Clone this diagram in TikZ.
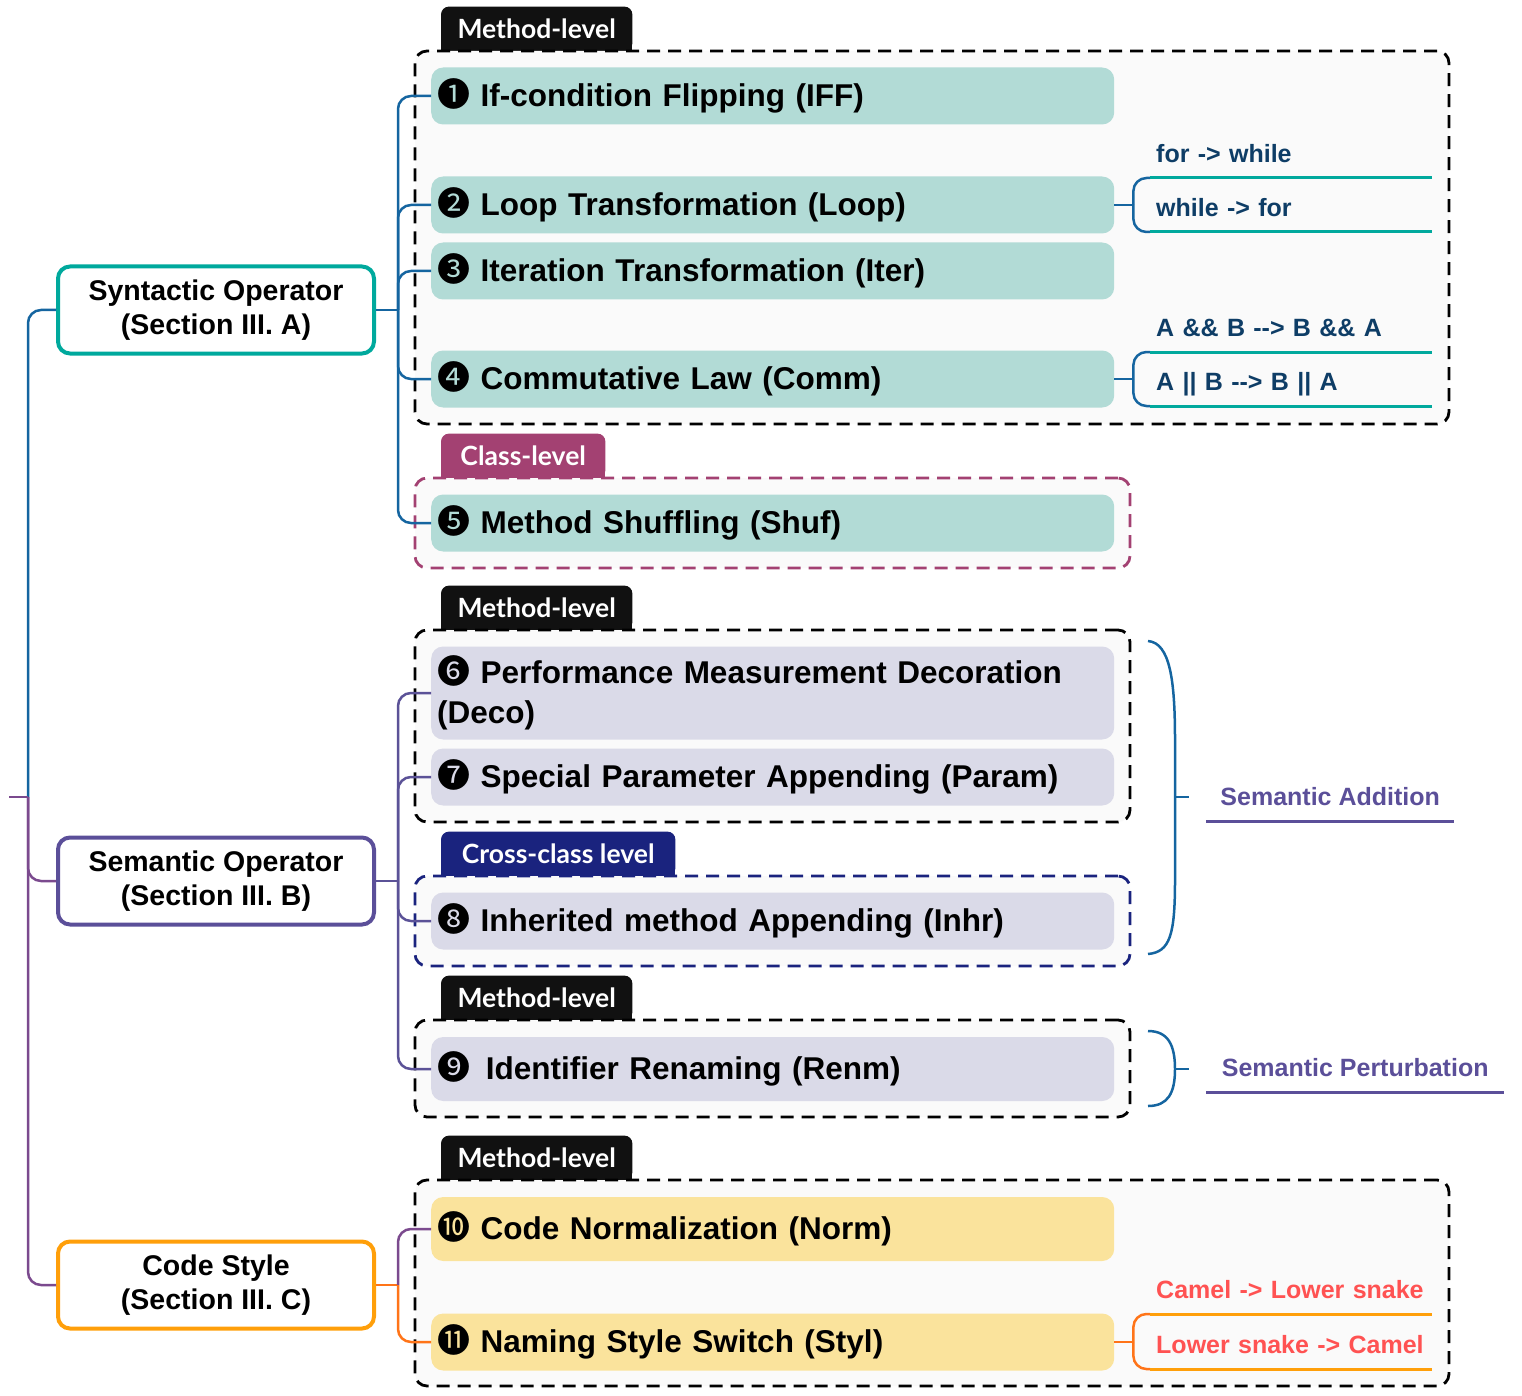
\documentclass[tikz,border=0pt]{standalone}
\usepackage{fontspec}
\setmainfont{Liberation Sans}
\newfontfamily\tagfont{Lato}
\newfontfamily\numfont{Noto Sans CJK JP}
\usetikzlibrary{positioning,fit,backgrounds}

\definecolor{synline}{HTML}{1565A0}
\definecolor{semline}{HTML}{5B5297}
\definecolor{rootpurple}{HTML}{7B4A8E}
\definecolor{tealb}{HTML}{00A99D}
\definecolor{orangeb}{HTML}{FF9F0A}
\definecolor{orangel}{HTML}{FF7418}
\definecolor{synfill}{HTML}{B2DBD6}
\definecolor{semfill}{HTML}{DADAE8}
\definecolor{stylefill}{HTML}{FAE39C}
\definecolor{grpfill}{HTML}{FAFAFA}
\definecolor{classcol}{HTML}{A34172}
\definecolor{crosscol}{HTML}{1A237E}
\definecolor{tagblack}{HTML}{111111}
\definecolor{subtext}{HTML}{0E3D66}
\definecolor{camelred}{HTML}{FF5252}
\definecolor{semtext}{HTML}{5B4F99}

\newcommand\itemfont{\fontsize{31.5}{40}\selectfont\bfseries}
\newcommand\catfont{\fontsize{28.5}{34}\selectfont\bfseries}
\newcommand\subfont{\fontsize{25}{30}\selectfont\bfseries}
\newcommand\opnum[1]{{\numfont\mdseries\fontsize{33}{40}\selectfont #1}}

\tikzset{
  catbox/.style={draw, line width=4pt, rounded corners=12pt, fill=white,
    minimum width=316pt, minimum height=87pt, align=center, font=\catfont},
  opbox/.style={rounded corners=12pt, text width=671pt, inner xsep=6pt,
    inner ysep=0pt, align=left, anchor=west, minimum height=57pt, font=\itemfont},
  synop/.style={opbox, fill=synfill},
  semop/.style={opbox, fill=semfill},
  styleop/.style={opbox, fill=stylefill},
  grp/.style={draw, dash pattern=on 13pt off 8pt, line width=2.8pt,
    rounded corners=12pt, fill=grpfill, inner sep=0pt},
  tag/.style={text=white, minimum height=44pt, inner sep=0pt,
    anchor=south west, font=\tagfont\bfseries\fontsize{26.5}{26}\selectfont},
  conn/.style={line width=2.5pt, rounded corners=13pt},
  sublabel/.style={anchor=south west, text width=270pt, inner xsep=6pt,
    inner ysep=10pt, text height=18pt, text depth=5pt, align=left, font=\subfont},
  semlabel/.style={anchor=south west, inner xsep=13pt, inner ysep=10pt,
    text height=18pt, text depth=5pt, text=semtext, font=\subfont},
  underline/.style={line width=3pt}
}

\begin{document}
\begin{tikzpicture}[x=1pt, y=-1pt]
\useasboundingbox (0,0) rectangle (1522,1396);

%tags:
\node[tag, minimum width=191pt] (tagA) at (441,51) {Method-level};
\node[tag, minimum width=164pt] (tagB) at (441,478) {Class-level};
\node[tag, minimum width=191pt] (tagC) at (441,630) {Method-level};
\node[tag, minimum width=234pt] (tagD) at (441,876) {Cross-class level};
\node[tag, minimum width=191pt] (tagE) at (441,1020) {Method-level};
\node[tag, minimum width=191pt] (tagF) at (441,1180) {Method-level};
\begin{scope}[on background layer]
  \foreach \t/\c in {tagA/tagblack, tagB/classcol, tagC/tagblack, tagD/crosscol, tagE/tagblack, tagF/tagblack} {
    \fill[\c, rounded corners=8pt] (\t.south west) rectangle (\t.north east);
    \fill[\c] (\t.south west) rectangle (\t.east);
  }
\end{scope}

%level groups:
\node[grp, fit={(415,51) (1449,424)}] (grpA) {};
\node[grp, draw=classcol, fit={(415,478) (1130,568)}] (grpB) {};
\node[grp, fit={(415,630) (1130,822)}] (grpC) {};
\node[grp, draw=crosscol, fit={(415,876) (1130,966)}] (grpD) {};
\node[grp, fit={(415,1020) (1130,1117)}] (grpE) {};
\node[grp, fit={(415,1180) (1449,1386)}] (grpF) {};

%categories:
\node[catbox, draw=tealb] (syn) at (216,310) {Syntactic Operator\\(Section III. A)};
\node[catbox, draw=semtext] (sem) at (216,881) {Semantic Operator\\(Section III. B)};
\node[catbox, draw=orangeb] (style) at (216,1285) {Code Style\\(Section III. C)};

%operators:
\node[synop] (i1) at (431,96) {\opnum{❶} If-condition Flipping (IFF)};
\node[synop] (i2) at (431,205) {\opnum{❷} Loop Transformation (Loop)};
\node[synop] (i3) at (431,271) {\opnum{❸} Iteration Transformation (Iter)};
\node[synop] (i4) at (431,379) {\opnum{❹} Commutative Law (Comm)};
\node[synop] (i5) at (431,523) {\opnum{❺} Method Shuffling (Shuf)};
\node[semop, minimum height=93pt] (i6) at (431,693) {\opnum{❻} Performance Measurement Decoration\\(Deco)};
\node[semop] (i7) at (431,777) {\opnum{❼} Special Parameter Appending (Param)};
\node[semop] (i8) at (431,921) {\opnum{❽} Inherited method Appending (Inhr)};
\node[semop, minimum height=64pt] (i9) at (431,1069) {\opnum{❾} \,Identifier Renaming (Renm)};
\node[styleop, minimum height=64pt] (i10) at (431,1229) {\opnum{❿} Code Normalization (Norm)};
\node[styleop] (i11) at (431,1342) {\opnum{⓫} Naming Style Switch (Styl)};

%root connectors:
\coordinate (root) at (9,797);
\coordinate[right=19pt of root] (rootj);
\draw[conn, synline] (rootj) |- (syn.west);
\draw[conn, rootpurple] (rootj) |- (sem.west);
\draw[conn, rootpurple] (rootj) |- (style.west);
\draw[line width=2.5pt, rootpurple] (root) -- (rootj);

%category connectors:
\coordinate[right=22pt of syn.east] (synj);
\coordinate[right=22pt of sem.east] (semj);
\coordinate[right=22pt of style.east] (stylej);
\draw[line width=2.5pt, synline] (syn.east) -- (synj);
\foreach \i in {i1,i2,i3,i4,i5}
  \draw[conn, synline] (synj) |- (\i.west);
\draw[line width=2.5pt, semline] (sem.east) -- (semj);
\foreach \i in {i6,i7,i8,i9}
  \draw[conn, semline] (semj) |- (\i.west);
\draw[line width=2.5pt, orangel] (style.east) -- (stylej);
\draw[conn, rootpurple] (stylej) |- (i10.west);
\draw[conn, orangel] (stylej) |- (i11.west);

%variants:
\node[sublabel, text=subtext] (s2a) at (1150,178) {for -> while};
\node[sublabel, text=subtext] (s2b) at (1150,232) {while -> for};
\node[sublabel, text=subtext] (s4a) at (1150,352) {A \&\& B -{}-> B \&\& A};
\node[sublabel, text=subtext] (s4b) at (1150,406) {A || B -{}-> B || A};
\node[sublabel, text=camelred] (s11a) at (1150,1314) {Camel -> Lower snake};
\node[sublabel, text=camelred] (s11b) at (1150,1369) {Lower snake -> Camel};
\foreach \i/\a/\b/\c/\d in {i2/s2a/s2b/synline/tealb, i4/s4a/s4b/synline/tealb, i11/s11a/s11b/orangel/orangeb} {
  \coordinate[right=19pt of \i.east] (\i j);
  \draw[line width=2.5pt, \c] (\i.east) -- (\i j);
  \draw[conn, \c] (\i j) |- (\a.south west);
  \draw[conn, \c] (\i j) |- (\b.south west);
  \draw[underline, \d] (\a.south west) -- (\a.south east);
  \draw[underline, \d] (\b.south west) -- (\b.south east);
}

%semantic braces:
\draw[line width=2.5pt, synline] (1148,641) .. controls (1170,643) and (1175,680) .. (1175,740)
  -- (1175,880) .. controls (1175,935) and (1170,952) .. (1148,954);
\draw[line width=2.5pt, synline] (1148,1031) .. controls (1168,1031) and (1175,1045) .. (1175,1069)
  .. controls (1175,1093) and (1168,1106) .. (1148,1106);
\coordinate (addtip) at (1175,797);
\coordinate (pertip) at (1175,1069);
\node[semlabel, minimum width=248pt] (add) at (1206,821) {Semantic Addition};
\node[semlabel, minimum width=298pt] (pert) at (1206,1092) {Semantic Perturbation};
\draw[line width=2.5pt, synline] (addtip) -- ++(14,0);
\draw[line width=2.5pt, synline] (pertip) -- ++(14,0);
\draw[underline, semtext] (add.south west) -- (add.south east);
\draw[underline, semtext] (pert.south west) -- (pert.south east);

\end{tikzpicture}
\end{document}
